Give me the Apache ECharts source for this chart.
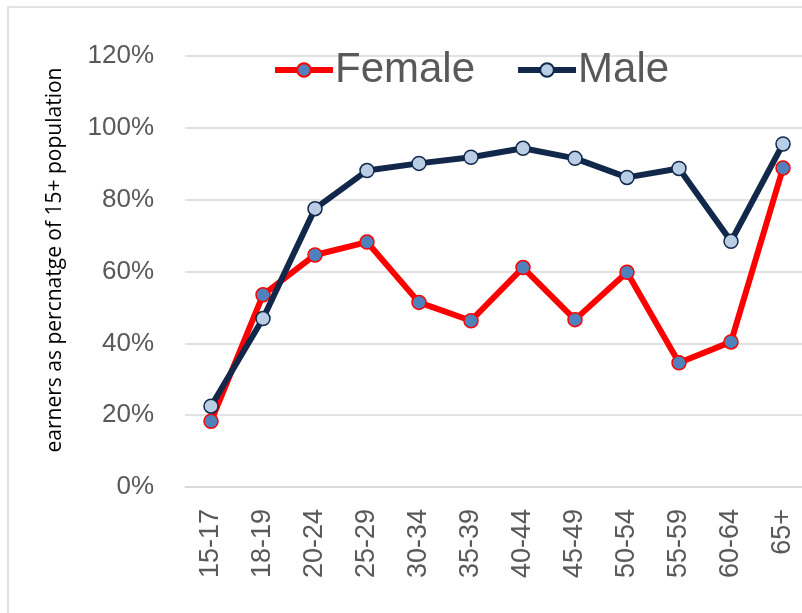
<!DOCTYPE html>
<html>
<head>
<meta charset="utf-8">
<script src="https://cdn.jsdelivr.net/npm/echarts@6/dist/echarts.min.js"></script>
<style>
html,body{margin:0;padding:0;background:#fff;}
#chart{width:802px;height:613px;}
</style>
</head>
<body>
<div id="chart"></div>
<script>
var categories = ['15-17','18-19','20-24','25-29','30-34','35-39','40-44','45-49','50-54','55-59','60-64','65+'];
var femaleValues = [18.3, 53.5, 64.6, 68.2, 51.4, 46.3, 61.1, 46.6, 59.8, 34.6, 40.4, 88.8];
var maleValues = [22.5, 46.9, 77.5, 88.1, 90.1, 91.8, 94.3, 91.5, 86.2, 88.7, 68.4, 95.5];
var yTicks = {min: 0, max: 120, interval: 20};
var yTitle = 'earners as percnatge of 15+ population';

var FONT = '"Liberation Sans", Arial, sans-serif';
var chart = echarts.init(document.getElementById('chart'), null, {renderer: 'canvas'});
chart.setOption({
  backgroundColor: '#ffffff',
  animation: false,
  graphic: [
    {type: 'rect', shape: {x: 8, y: 7, width: 1000, height: 1000}, style: {fill: 'none', stroke: '#d9d9d9', lineWidth: 1.5}, silent: true},
    {type: 'text', x: 55, y: 260, rotation: Math.PI / 2,
     style: {text: yTitle, font: '21px "Open Sans", sans-serif', fill: '#000000', align: 'center', verticalAlign: 'middle'}}
  ],
  legend: {
    data: [
      {name: 'Female', lineStyle: {width: 6, color: '#ff0000'}},
      {name: 'Male', lineStyle: {width: 6, color: '#12284a'}}
    ],
    left: 267,
    top: 44,
    itemWidth: 58,
    itemHeight: 17,
    itemGap: 40,
    textStyle: {fontFamily: FONT, fontSize: 42, color: '#595959', padding: [0, 0, 0, -3]}
  },
  grid: {left: 185, top: 56, width: 624, height: 431, containLabel: false, outerBoundsMode: 'none'},
  xAxis: {
    type: 'category',
    data: categories,
    boundaryGap: true,
    axisLine: {show: true, lineStyle: {color: '#d9d9d9', width: 1.5}},
    axisTick: {show: false},
    axisLabel: {rotate: 90, margin: 22, fontFamily: FONT, fontSize: 27, color: '#595959', interval: 0}
  },
  yAxis: {
    type: 'value',
    min: yTicks.min,
    max: yTicks.max,
    interval: yTicks.interval,
    axisLine: {show: false},
    axisTick: {show: false},
    splitLine: {lineStyle: {color: '#d9d9d9', width: 1.5}},
    axisLabel: {formatter: '{value}%', margin: 31, fontFamily: FONT, fontSize: 26, color: '#595959'}
  },
  series: [
    {
      name: 'Female', type: 'line', data: femaleValues,
      symbol: 'circle', symbolSize: 14,
      lineStyle: {color: '#ff0000', width: 6},
      itemStyle: {color: '#4f81bd', borderColor: '#ff0000', borderWidth: 1.5},
      z: 2
    },
    {
      name: 'Male', type: 'line', data: maleValues,
      symbol: 'circle', symbolSize: 14,
      lineStyle: {color: '#12284a', width: 6},
      itemStyle: {color: '#b9cde5', borderColor: '#12284a', borderWidth: 1.5},
      z: 3
    }
  ]
});
</script>
</body>
</html>
